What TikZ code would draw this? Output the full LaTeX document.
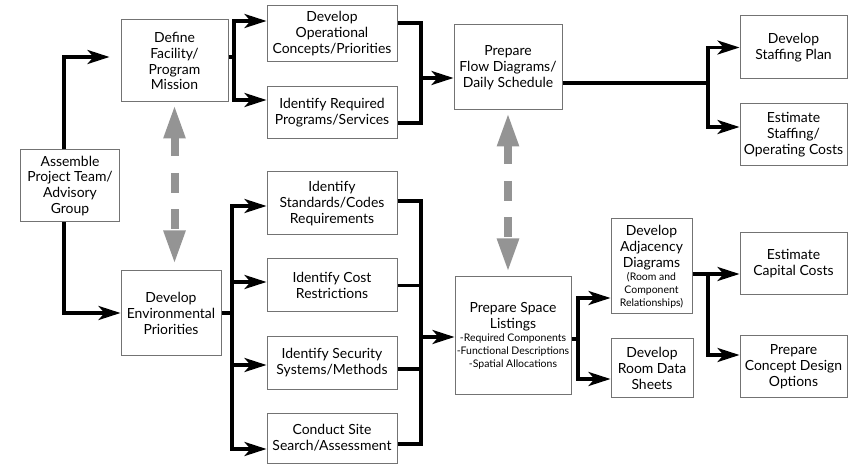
\documentclass[tikz,border=0pt]{standalone}
\usepackage{fontspec}
\setmainfont{Lato}
\usetikzlibrary{arrows.meta,calc}

\newcommand{\smalltxt}[1]{{\fontsize{10.5}{12}\selectfont #1}}

\begin{document}
\begin{tikzpicture}[x=1bp,y=-1bp,font=\fontsize{14}{16}\selectfont,
  box/.style={draw=black!55,line width=1bp,align=center,inner sep=0pt,fill=white},
  link/.style={line width=3.5bp},
  arr/.style={link,-{Stealth[length=22bp,width=14bp,inset=6bp]}},
  dbl/.style={line width=8bp,black!42,dash pattern=on 20bp off 16.5bp,
    {Triangle[length=34bp,width=20bp]}-{Triangle[length=34bp,width=20bp]}}]
\useasboundingbox (0,0) rectangle (858,464);

%left column
\node[box,minimum width=98bp,minimum height=72bp] (assemble) at (70,186) {Assemble\\Project Team/\\Advisory\\Group};
\node[box,minimum width=107bp,minimum height=82bp] (define) at (174.5,61) {Define\\Facility/\\Program\\Mission};
\node[box,minimum width=100bp,minimum height=84bp] (env) at (171,313) {Develop\\Environmental\\Priorities};

\node[box,minimum width=130bp,minimum height=56bp] (oper) at (332,34) {Develop\\Operational\\Concepts/Priorities};
\node[box,minimum width=130bp,minimum height=52bp] (reqd) at (332,113) {Identify Required\\Programs/Services};
\node[box,minimum width=130bp,minimum height=63bp] (stds) at (332,203.5) {Identify\\Standards/Codes\\Requirements};
\node[box,minimum width=130bp,minimum height=53bp] (cost) at (332,285.5) {Identify Cost\\Restrictions};
\node[box,minimum width=130bp,minimum height=52bp] (secur) at (332,363) {Identify Security\\Systems/Methods};
\node[box,minimum width=130bp,minimum height=50bp] (site) at (332,438) {Conduct Site\\Search/Assessment};

%middle
\node[box,minimum width=108bp,minimum height=85bp] (flow) at (508,67.5) {Prepare\\Flow Diagrams/\\Daily Schedule};
\node[box,minimum width=116bp,minimum height=117bp] (space) at (513,335.5) {Prepare Space\\Listings\\[-3pt]\smalltxt{-Required Components}\\[-3pt]\smalltxt{-Functional Descriptions}\\[-3pt]\smalltxt{-Spatial Allocations}};
\node[box,minimum width=81bp,minimum height=95bp] (adj) at (651.5,266.5) {Develop\\Adjacency\\Diagrams\\[-3pt]\smalltxt{(Room and}\\[-3pt]\smalltxt{Component}\\[-3pt]\smalltxt{Relationships)}};
\node[box,minimum width=82bp,minimum height=58bp] (room) at (652,368) {Develop\\Room Data\\Sheets};

%right column
\node[box,minimum width=107bp,minimum height=63bp] (staff) at (793.5,47.5) {Develop\\Staffing Plan};
\node[box,minimum width=107bp,minimum height=62bp] (estst) at (793.5,135) {Estimate\\Staffing/\\Operating Costs};
\node[box,minimum width=107bp,minimum height=62bp] (capital) at (793.5,264) {Estimate\\Capital Costs};
\node[box,minimum width=107bp,minimum height=61bp] (concept) at (793.5,366.5) {Prepare\\Concept Design\\Options};

%junctions
\coordinate (b1) at (234,57);
\coordinate (b2) at (421,78);
\coordinate (b3) at (708,83);
\coordinate (b4) at (232,313);
\coordinate (b5) at (421,337);
\coordinate (b6) at (578,339);
\coordinate (b7) at (708,274);

\draw[arr] ($(assemble.north)+(-6,0)$) |- ($(define.west)+(-11,-4)$);
\draw[arr] ($(assemble.south)+(-6,0)$) |- (env.west);

\draw[link] ($(define.east)+(0,-4)$) -- (b1);
\draw[arr] (b1) |- ($(oper.west)+(0,-13)$);
\draw[arr] (b1) |- ($(reqd.west)+(0,-13)$);

\draw[link] ($(oper.east)+(0,-11)$) -| (b2) |- ($(reqd.east)+(0,10)$);
\draw[arr] (b2) -- (b2 -| flow.west);

\draw[link] (flow.east |- b3) -- (b3);
\draw[arr] (b3) |- (staff.west);
\draw[arr] (b3) |- ($(estst.west)+(0,-8)$);

\draw[link] (env.east) -- (b4);
\draw[arr] (b4) |- ($(stds.west)+(0,2.5)$);
\draw[arr] (b4) |- ($(cost.west)+(0,-3.5)$);
\draw[arr] (b4) |- ($(secur.west)+(0,2)$);
\draw[arr] (b4) |- ($(site.west)+(0,11)$);

\draw[link] ($(stds.east)+(0,-2.5)$) -| (b5) |- ($(site.east)+(0,6)$);
\draw[link] (cost.east) -| (b5);
\draw[link] ($(secur.east)+(0,6)$) -| (b5);
\draw[arr] (b5) -- (b5 -| space.west);

\draw[link] (space.east |- b6) -- (b6);
\draw[arr] (b6) |- ($(adj.west)+(0,31.5)$);
\draw[arr] (b6) |- ($(room.west)+(0,11)$);

\draw[link] (adj.east |- b7) -- (b7);
\draw[arr] (b7) -- (b7 -| capital.west);
\draw[arr] (b7) |- ($(concept.west)+(0,-11.5)$);

\draw[dbl] ($(define.south)+(0,2)$) -- ($(define.south |- env.north)+(0,-6)$);
\draw[dbl] ($(flow.south)+(0,2)$) -- ($(flow.south |- space.north)+(0,-4)$);

\end{tikzpicture}
\end{document}
